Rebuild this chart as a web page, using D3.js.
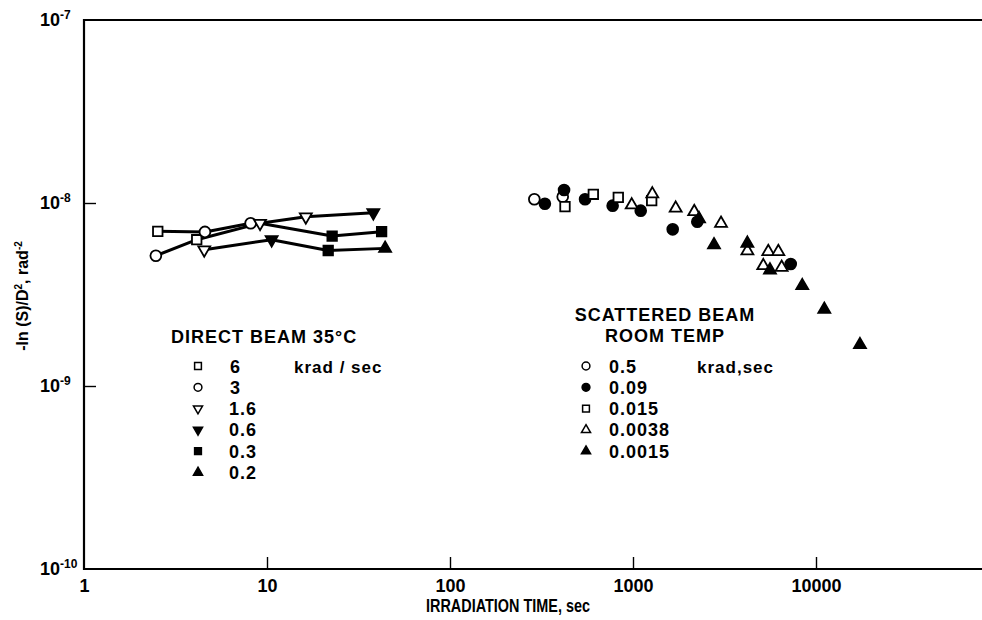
<!DOCTYPE html>
<html>
<head>
<meta charset="utf-8">
<script src="https://cdn.jsdelivr.net/npm/d3@7"></script>
<style>
  html, body { margin: 0; padding: 0; background: #fff; }
  svg { display: block; font-family: "Liberation Sans", Arial, Helvetica, sans-serif; font-weight: bold; }
</style>
</head>
<body>
<svg id="chart" width="982" height="620"></svg>
<script>
// ---- data -------------------------------------------------------------
// Irradiation time (s) and -ln(S)/D^2 (rad^-2)
const xTickValues = [1, 10, 100, 1000, 10000];
const yTickExponents = [-7, -8, -9, -10];

// Direct beam, 35 °C, dose rate in krad/sec
const directRates = ["6", "3", "1.6", "0.6", "0.3", "0.2"];
const direct6   = [[2.53, 7.0e-9], [4.13, 6.3e-9]];
const direct3   = [[2.47, 5.15e-9], [4.58, 6.95e-9], [8.14, 7.75e-9]];
const direct1_6 = [[4.54, 5.55e-9], [9.16, 7.75e-9], [16.3, 8.4e-9]];
const direct0_6 = [[10.6, 6.3e-9], [38.1, 8.85e-9]];
const direct0_3 = [[21.6, 5.5e-9], [22.7, 6.6e-9], [42.3, 6.97e-9]];
const direct0_2 = [[44.2, 5.65e-9]];

// Connecting curves through the direct-beam points
const directCurveTop = [[2.53, 7.0e-9], [4.58, 6.95e-9], [8.14, 7.75e-9], [9.16, 7.75e-9], [16.3, 8.4e-9], [38.1, 8.85e-9]];
const directCurveMid = [[2.47, 5.15e-9], [4.13, 6.3e-9], [9.16, 7.75e-9], [22.7, 6.6e-9], [42.3, 6.97e-9]];
const directCurveLow = [[4.54, 5.55e-9], [10.6, 6.3e-9], [21.6, 5.5e-9], [44.2, 5.65e-9]];

// Scattered beam, room temperature, dose rate in krad/sec
const scatteredRates = ["0.5", "0.09", "0.015", "0.0038", "0.0015"];
const scat0_5 = [[289, 1.048e-8], [413, 1.082e-8]];
const scat0_09 = [[330, 0.99e-8], [420, 1.178e-8], [547, 1.048e-8], [774, 0.967e-8], [1102, 0.908e-8],
                  [1648, 0.718e-8], [2246, 0.79e-8], [7276, 0.464e-8]];
const scat0_015 = [[425, 0.955e-8], [607, 1.116e-8], [831, 1.074e-8], [1265, 1.03e-8]];
const scat0_0038 = [[984, 0.975e-8], [1275, 1.12e-8], [1711, 0.936e-8], [2161, 0.896e-8], [3027, 0.774e-8],
                    [4218, 0.547e-8], [5485, 0.542e-8], [6225, 0.542e-8], [5152, 0.454e-8], [6491, 0.445e-8]];
const scat0_0015 = [[2296, 0.82e-8], [2771, 0.59e-8], [4217, 0.602e-8], [5605, 0.43e-8], [8414, 0.353e-8],
                    [11100, 0.262e-8], [17390, 0.168e-8]];

// ---- layout ------------------------------------------------------------
const W = 982, H = 620;
const plotLeft = 84, plotTop = 20, plotBottom = 569;
const decade = 183;

const svg = d3.select("#chart");
const x = d3.scaleLog().domain([1, 1e5]).range([plotLeft, plotLeft + 5 * decade]);
const y = d3.scaleLog().domain([1e-10, 1e-7]).range([plotBottom, plotTop]);

// marker shapes
const shapes = {
  square:  { type: d3.symbolSquare,   fill: false, rot: 0 },
  circle:  { type: d3.symbolCircle,   fill: false, rot: 0 },
  triDown: { type: d3.symbolTriangle, fill: false, rot: 180 },
  triDownF:{ type: d3.symbolTriangle, fill: true,  rot: 180 },
  squareF: { type: d3.symbolSquare,   fill: true,  rot: 0 },
  triUpF:  { type: d3.symbolTriangle, fill: true,  rot: 0 },
  circleF: { type: d3.symbolCircle,   fill: true,  rot: 0 },
  triUp:   { type: d3.symbolTriangle, fill: false, rot: 0 }
};
const sizes = { plot: { sq: 90, ci: 92, tr: 62 }, legend: { sq: 46, ci: 48, tr: 36 } };
function areaFor(type, set) {
  if (type === d3.symbolSquare) return sizes[set].sq;
  if (type === d3.symbolCircle) return sizes[set].ci;
  return sizes[set].tr;
}
function drawMarker(g, shapeKey, cx, cy, set) {
  const s = shapes[shapeKey];
  g.append("path")
    .attr("d", d3.symbol().type(s.type).size(areaFor(s.type, set))())
    .attr("transform", `translate(${cx},${cy}) rotate(${s.rot})`)
    .attr("fill", s.fill ? "#000" : "#fff")
    .attr("stroke", "#000")
    .attr("stroke-width", set === "plot" ? 1.8 : 1.5);
}

// ---- axes --------------------------------------------------------------
const axisG = svg.append("g");
// frame: left, top, bottom (open on the right)
axisG.append("path")
  .attr("d", `M${W},${plotTop} H${plotLeft} V${plotBottom} H${W}`)
  .attr("fill", "none").attr("stroke", "#000").attr("stroke-width", 2.2);

const xAxis = d3.axisBottom(x).tickValues(xTickValues).tickSize(-12).tickPadding(10)
  .tickFormat(d => String(d));
const gx = svg.append("g").attr("transform", `translate(0,${plotBottom})`).call(xAxis);
gx.select(".domain").remove();
gx.selectAll(".tick line").attr("stroke", "#000").attr("stroke-width", 1.4)
  .filter(d => d === 1).remove();
gx.selectAll(".tick text").attr("font-size", 18).attr("font-weight", "bold")
  .attr("fill", "#000").attr("font-family", "'Liberation Sans', Arial, sans-serif");

const yAxis = d3.axisLeft(y).tickValues(yTickExponents.map(e => Math.pow(10, e))).tickSize(-12).tickFormat("");
const gy = svg.append("g").attr("transform", `translate(${plotLeft},0)`).call(yAxis);
gy.select(".domain").remove();
gy.selectAll(".tick line").attr("stroke", "#000").attr("stroke-width", 1.4)
  .filter(d => d >= 1e-7 * 0.99 || d <= 1e-10 * 1.01).remove();

// y tick labels as 10 with a raised exponent
yTickExponents.forEach(e => {
  const t = svg.append("text")
    .attr("x", 40).attr("y", y(Math.pow(10, e)) + 6)
    .attr("font-size", 18).attr("fill", "#000");
  t.append("tspan").text("10");
  t.append("tspan").attr("dy", -7).attr("font-size", 12).text("-" + Math.abs(e));
});

// axis titles
svg.append("text")
  .attr("x", 426).attr("y", 612)
  .attr("font-size", 18).attr("textLength", 164).attr("lengthAdjust", "spacingAndGlyphs")
  .text("IRRADIATION TIME, sec");

const yTitle = svg.append("text")
  .attr("transform", `translate(28,296) rotate(-90)`)
  .attr("text-anchor", "middle").attr("font-size", 16);
yTitle.append("tspan").text("-ln (S)/D");
yTitle.append("tspan").attr("dy", -6).attr("font-size", 10).text("2");
yTitle.append("tspan").attr("dy", 6).text(", rad");
yTitle.append("tspan").attr("dy", -6).attr("font-size", 10).text("-2");

// ---- direct beam curves and points -------------------------------------
const line = d3.line().x(d => x(d[0])).y(d => y(d[1]));
const curves = svg.append("g");
[directCurveTop, directCurveMid, directCurveLow].forEach(c => {
  curves.append("path").attr("d", line(c)).attr("fill", "none")
    .attr("stroke", "#000").attr("stroke-width", 3).attr("stroke-linejoin", "round");
});

const directSeries = [direct6, direct3, direct1_6, direct0_6, direct0_3, direct0_2];
const directShapes = ["square", "circle", "triDown", "triDownF", "squareF", "triUpF"];
const pts = svg.append("g");
directSeries.forEach((s, i) => s.forEach(d => drawMarker(pts, directShapes[i], x(d[0]), y(d[1]), "plot")));

const scatSeries = [scat0_5, scat0_09, scat0_015, scat0_0038, scat0_0015];
const scatShapes = ["circle", "circleF", "square", "triUp", "triUpF"];
scatSeries.forEach((s, i) => s.forEach(d => drawMarker(pts, scatShapes[i], x(d[0]), y(d[1]), "plot")));

// ---- legends -----------------------------------------------------------
const rowY = i => 366 + i * 21.3;

const legL = svg.append("g");
legL.append("text").attr("x", 171).attr("y", 343).attr("font-size", 18)
  .attr("letter-spacing", 1).text("DIRECT BEAM 35\u00B0C");
directRates.forEach((r, i) => {
  drawMarker(legL, directShapes[i], 198, rowY(i), "legend");
  legL.append("text").attr("x", r.length > 1 ? 229 : 230).attr("y", rowY(i) + 6.5)
    .attr("font-size", 18).attr("letter-spacing", 1).text(r);
});
legL.append("text").attr("x", 294).attr("y", rowY(0) + 6.5).attr("font-size", 17)
  .attr("letter-spacing", 1).text("krad / sec");

const legR = svg.append("g");
legR.append("text").attr("x", 665).attr("y", 321).attr("text-anchor", "middle")
  .attr("font-size", 18).attr("letter-spacing", 1).text("SCATTERED BEAM");
legR.append("text").attr("x", 665).attr("y", 342).attr("text-anchor", "middle")
  .attr("font-size", 18).attr("letter-spacing", 1).text("ROOM TEMP");
scatteredRates.forEach((r, i) => {
  drawMarker(legR, scatShapes[i], 586, rowY(i), "legend");
  legR.append("text").attr("x", 609).attr("y", rowY(i) + 6.5)
    .attr("font-size", 18).attr("letter-spacing", 1).text(r);
});
legR.append("text").attr("x", 697).attr("y", rowY(0) + 6.5).attr("font-size", 17)
  .attr("letter-spacing", 1).text("krad,sec");
</script>
</body>
</html>
